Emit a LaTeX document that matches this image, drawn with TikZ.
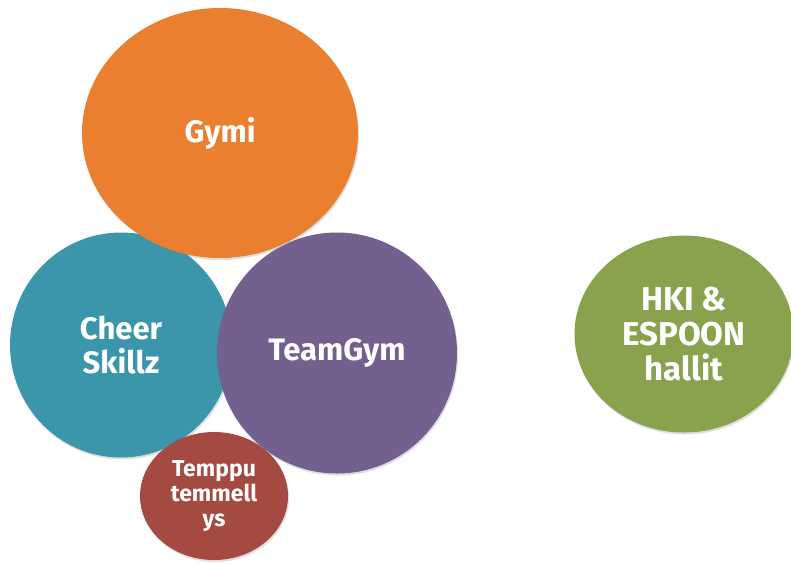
\documentclass[tikz,border=0pt]{standalone}
\usepackage{fontspec}
\setmainfont{Fira Sans}
\usetikzlibrary{shapes.geometric,shadows}

\definecolor{gymiorange}{HTML}{E97F2F}
\definecolor{cheerteal}{HTML}{3B96AB}
\definecolor{teampurple}{HTML}{74608F}
\definecolor{tempred}{HTML}{A44A41}
\definecolor{hallgreen}{HTML}{88A24E}

\begin{document}
\begin{tikzpicture}
  [x=1pt,y=-1pt,every node/.style={ellipse,inner sep=0pt,align=center,text=white,
   font=\bfseries\fontsize{31}{34}\selectfont,
   drop shadow={opacity=.25,shadow xshift=1pt,shadow yshift=-2pt}}]
  \useasboundingbox (0,0) rectangle (791,563);
  \node[fill=cheerteal,minimum width=222pt,minimum height=225pt] (nc) at (121,345) {Cheer\\Skillz};
  \node[fill=teampurple,minimum width=240pt,minimum height=241pt] (nt) at (337,353) {TeamGym};
  \node[fill=gymiorange,minimum width=276pt,minimum height=250pt] (ng) at (220,133) {Gymi};
  \node[fill=tempred,minimum width=148pt,minimum height=128pt,
    font=\bfseries\fontsize{23}{25}\selectfont] (nr) at (214,496) {Temppu\\temmell\\ys};
  \node[fill=hallgreen,minimum width=219pt,minimum height=197pt,
    font=\bfseries\fontsize{33}{35}\selectfont] (nh) at (684,334) {HKI \&\\ESPOON\\hallit};
\end{tikzpicture}
\end{document}
